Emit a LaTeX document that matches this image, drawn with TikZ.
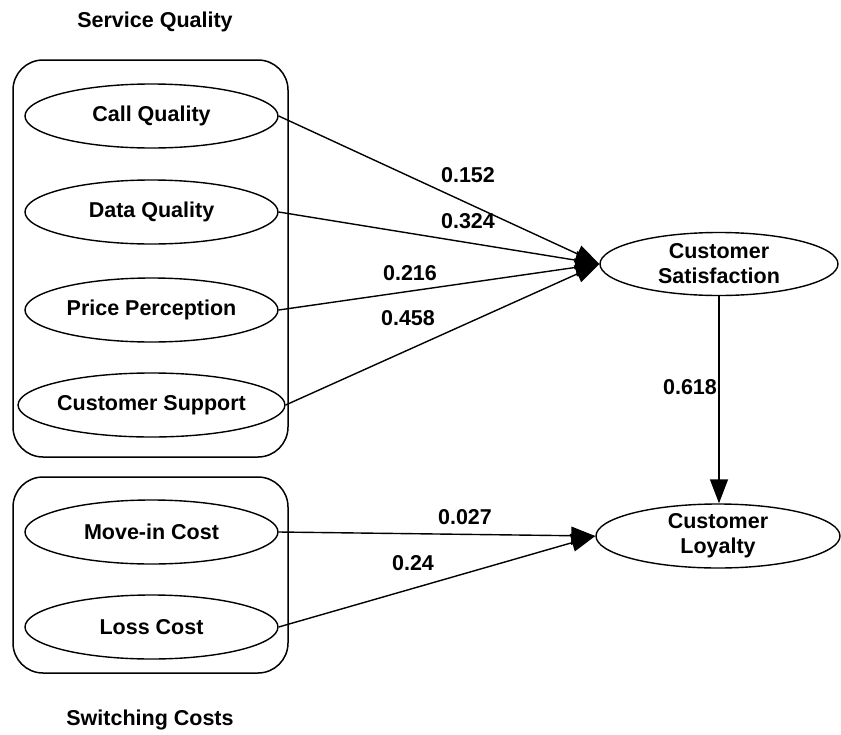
\documentclass[tikz,border=0pt]{standalone}
\usepackage{fontspec}
\setmainfont{Liberation Sans}
\usetikzlibrary{arrows.meta, shapes.geometric}

\tikzset{construct/.style={draw, ellipse, line width=1.4pt, inner sep=0pt,
           minimum width=253pt, minimum height=64pt},
         groupbox/.style={draw, rectangle, rounded corners=30pt, line width=1.5pt},
         effect/.style={draw, line width=1.4pt,
           -{Triangle[length=24pt, width=18pt]}},
         coef/.style={draw=none, font=\bfseries\fontsize{21.5}{24}\selectfont}}

\begin{document}
\begin{tikzpicture}[
    x = 1pt, y = -1pt,
    every node/.style = {font = \bfseries\fontsize{21.5}{25}\selectfont, align = center}
  ]
  \useasboundingbox (0,0) rectangle (841,734);

  % the two groups of indicators
  \node[groupbox, minimum width = 275pt, minimum height = 397pt] (sqbox) at (150.5,258.5) {};
  \node[groupbox, minimum width = 275pt, minimum height = 196pt] (scbox) at (150.5,575) {};
  \node (sqlabel) at (155,22) {Service Quality};
  \node (sclabel) at (150,720) {Switching Costs};

  \node[construct] (call) at (151.5,116) {Call Quality};
  \node[construct] (data) at (151.5,212) {Data Quality};
  \node[construct] (price) at (151.5,310) {Price Perception};
  \node[construct] (support) at (151.5,405) {Customer Support};
  \node[construct] (movein) at (151.5,532) {Move-in Cost};
  \node[construct] (loss) at (151.5,627) {Loss Cost};

  \node[construct, minimum width = 238pt, minimum height = 63pt] (satis) at (719,264) {Customer\\Satisfaction};
  \node[construct, minimum width = 244pt, minimum height = 64pt] (loyal) at (718,536) {Customer\\Loyalty};

  \draw[effect] (call.east) -- (satis.west);
  \draw[effect] (data.east) -- (satis.west);
  \draw[effect] (price.east) -- (satis.west);
  \draw[effect] (support.east) -- (satis.west);
  \draw[effect] (movein.east) -- (loyal.west);
  \draw[effect] (loss.east) -- (loyal.west);
  \draw[effect] (satis.south) -- (satis.south |- loyal.north);

  % path coefficients
  \node[coef] (c1) at (468,175) {0.152};
  \node[coef] (c2) at (468,221) {0.324};
  \node[coef] (c3) at (410,273) {0.216};
  \node[coef] (c4) at (408,318) {0.458};
  \node[coef] (c5) at (690,387) {0.618};
  \node[coef] (c6) at (465,517) {0.027};
  \node[coef] (c7) at (413,563) {0.24};
\end{tikzpicture}
\end{document}
